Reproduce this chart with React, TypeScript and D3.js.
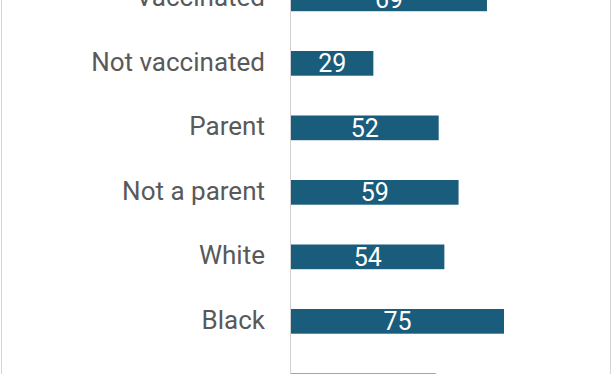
import React, { useEffect, useRef } from 'react'
import * as d3 from 'd3'

const categories = ['Vaccinated', 'Not vaccinated', 'Parent', 'Not a parent', 'White', 'Black', 'Hispanic']
const values = [69, 29, 52, 59, 54, 75, 51]

const W = 612
const H = 374

export default function App() {
    const ref = useRef<SVGSVGElement>(null)

    useEffect(() => {
        const svg = d3.select(ref.current)
        svg.selectAll('*').remove()

        const x = d3.scaleLinear().domain([0, 100]).range([291, 291 + 284])
        const y = d3.scaleBand<string>()
            .domain(categories)
            .range([-33.4, 418.1])
            .paddingInner(0.617)
            .paddingOuter(0.3085)

        const data = categories.map((c, i) => ({ name: c, value: values[i] }))

        // frame
        svg.append('rect')
            .attr('x', 1.5).attr('y', -10)
            .attr('width', 609).attr('height', H + 20)
            .attr('fill', '#fff')
            .attr('stroke', '#d4d4d4')

        // axis line
        svg.append('line')
            .attr('x1', 290.5).attr('x2', 290.5)
            .attr('y1', 0).attr('y2', H)
            .attr('stroke', '#d0d0d0')

        const g = svg.selectAll('g.bar')
            .data(data)
            .enter()
            .append('g')
            .attr('class', 'bar')

        g.append('rect')
            .attr('x', x(0))
            .attr('y', d => y(d.name)!)
            .attr('width', d => x(d.value) - x(0))
            .attr('height', y.bandwidth())
            .attr('fill', '#1a5c7c')

        g.append('text')
            .attr('x', d => (x(0) + x(d.value)) / 2)
            .attr('y', d => y(d.name)! + y.bandwidth() / 2 + 9)
            .attr('text-anchor', 'middle')
            .attr('fill', '#fff')
            .style('font-family', 'Roboto')
            .style('font-size', '25px')
            .text(d => d.value)

        g.append('text')
            .attr('x', 265)
            .attr('y', d => y(d.name)! + y.bandwidth() / 2 + 7.5)
            .attr('text-anchor', 'end')
            .attr('fill', '#595959')
            .style('font-family', 'Roboto')
            .style('font-size', '26px')
            .text(d => d.name)
    }, [])

    return (
        <svg ref={ref} width={W} height={H} style={{ position: 'absolute', left: 0, top: 0 }} />
    )
}
